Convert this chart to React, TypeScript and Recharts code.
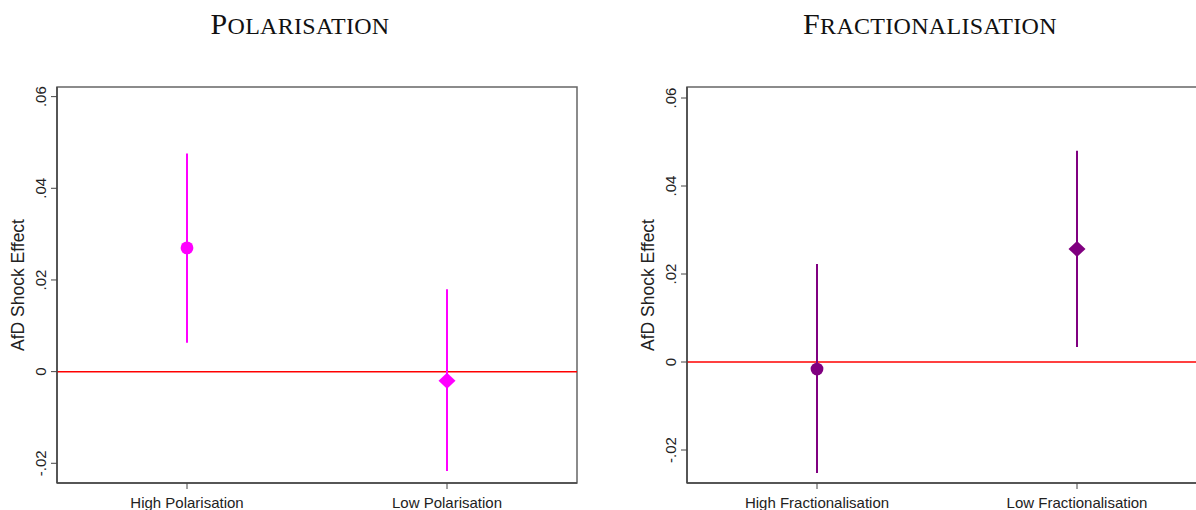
import { ScatterChart, Scatter, XAxis, YAxis, ErrorBar, ReferenceLine, ReferenceArea } from 'recharts'

// Polarisation panel
const polCats = ['High Polarisation', 'Low Polarisation']
const polEst = [0.027, -0.002]
const polLo = [0.0063, -0.0217]
const polHi = [0.0476, 0.018]

// Fractionalisation panel
const fracCats = ['High Fractionalisation', 'Low Fractionalisation']
const fracEst = [-0.0016, 0.0257]
const fracLo = [-0.0252, 0.0034]
const fracHi = [0.0223, 0.048]

const yTicks = [-0.02, 0, 0.02, 0.04, 0.06]

const fmt = (v: number) => (v === 0 ? '0' : v.toFixed(2).replace('0.', '.'))

const YTick = (props: any) => {
  const { x, y, payload } = props
  const tx = x - 3
  return (
    <text
      x={tx}
      y={y}
      transform={`rotate(-90 ${tx} ${y})`}
      textAnchor="middle"
      fontSize={15}
      fill="#222"
      fontFamily="Arial, 'Liberation Sans', sans-serif"
    >
      {fmt(payload.value)}
    </text>
  )
}

const Marker = (props: any) => {
  const { cx, cy, payload, fill } = props
  if (payload.shape === 'diamond') {
    return <polygon points={`${cx},${cy - 8} ${cx + 8.5},${cy} ${cx},${cy + 8} ${cx - 8.5},${cy}`} fill={fill} />
  }
  return <circle cx={cx} cy={cy} r={6.4} fill={fill} />
}

// small caps drawn by hand: full-size initial, the rest as smaller capitals
const Title = ({ text }: { text: string }) => (
  <div
    style={{
      position: 'absolute',
      top: 9,
      left: 0,
      width: 600,
      textAlign: 'center',
      fontFamily: "'Liberation Serif', 'DejaVu Serif', serif",
      fontSize: 30,
      lineHeight: '30px',
      color: '#111',
      letterSpacing: 0.3,
    }}
  >
    {text[0]}
    <span style={{ fontSize: 24 }}>{text.slice(1).toUpperCase()}</span>
  </div>
)

interface PanelProps {
  title: string
  cats: string[]
  est: number[]
  lo: number[]
  hi: number[]
  color: string
  yMin: number
  yMax: number
  left: number
}

const Panel = ({ title, cats, est, lo, hi, color, yMin, yMax, left }: PanelProps) => {
  const data = est.map((v, i) => ({
    x: i + 1,
    y: v,
    err: [v - lo[i], hi[i] - v],
    shape: i === 0 ? 'circle' : 'diamond',
  }))
  return (
    <div style={{ position: 'absolute', left, top: 0, width: 600, height: 510 }}>
      <Title text={title} />
      <ScatterChart width={600} height={510} margin={{ top: 87, right: 23, bottom: 0, left: 0 }}>
        <XAxis
          type="number"
          dataKey="x"
          domain={[0.5, 2.5]}
          ticks={[1, 2]}
          interval={0}
          height={27}
          tickMargin={8}
          tickFormatter={(v: number) => cats[v - 1]}
          tick={{ fontSize: 15, fill: '#222', fontFamily: "Arial, 'Liberation Sans', sans-serif" }}
          axisLine={{ stroke: '#444', strokeWidth: 1.5 }}
          tickLine={{ stroke: '#444' }}
        />
        <YAxis
          type="number"
          dataKey="y"
          domain={[yMin, yMax]}
          ticks={yTicks}
          allowDataOverflow
          width={57}
          tick={<YTick />}
          axisLine={{ stroke: '#444', strokeWidth: 1.5 }}
          tickLine={{ stroke: '#444' }}
          label={{
            value: 'AfD Shock Effect',
            angle: -90,
            position: 'insideLeft',
            dx: 13,
            style: { fontSize: 17.5, fill: '#222', fontFamily: "Arial, 'Liberation Sans', sans-serif", textAnchor: 'middle' },
          }}
        />
        <ReferenceArea x1={0.5} x2={2.5} y1={yMin} y2={yMax} fill="none" stroke="#666" strokeWidth={1.5} />
        <ReferenceLine y={0} stroke="#FF0000" strokeWidth={1.5} />
        <Scatter data={data} fill={color} shape={<Marker />} isAnimationActive={false}>
          <ErrorBar dataKey="err" direction="y" width={0} stroke={color} strokeWidth={2} />
        </Scatter>
      </ScatterChart>
    </div>
  )
}

export default function App() {
  return (
    <div style={{ position: 'absolute', left: 0, top: 0, width: 1196, height: 510, overflow: 'hidden', background: '#fff' }}>
      <Panel title="Polarisation" cats={polCats} est={polEst} lo={polLo} hi={polHi} color="#FF00FF" yMin={-0.0243} yMax={0.0621} left={0} />
      <Panel title="Fractionalisation" cats={fracCats} est={fracEst} lo={fracLo} hi={fracHi} color="#800080" yMin={-0.0275} yMax={0.0625} left={630} />
    </div>
  )
}
